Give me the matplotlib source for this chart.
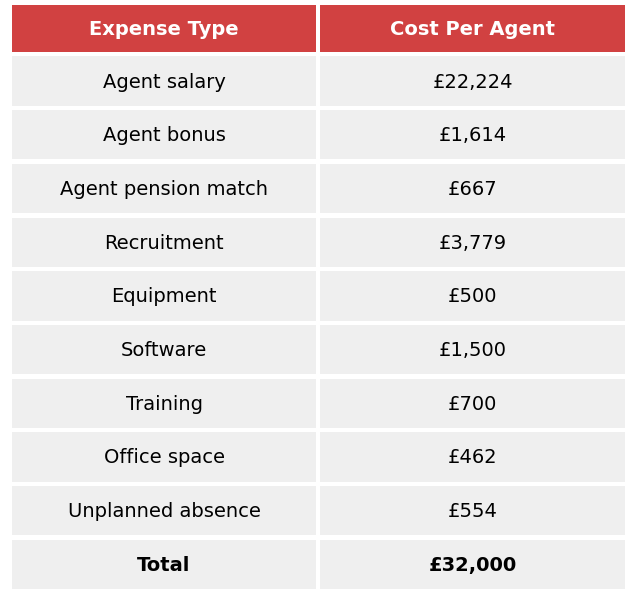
import matplotlib
matplotlib.use("Agg")
import matplotlib.pyplot as plt
from matplotlib.patches import Rectangle

headers = ["Expense Type", "Cost Per Agent"]
expense_types = ["Agent salary", "Agent bonus", "Agent pension match", "Recruitment",
                 "Equipment", "Software", "Training", "Office space", "Unplanned absence", "Total"]
costs = [22224, 1614, 667, 3779, 500, 1500, 700, 462, 554, 32000]

W, H = 634, 598
fig = plt.figure(figsize=(W/100, H/100), dpi=100)
ax = fig.add_axes([0, 0, 1, 1])
ax.set_xlim(0, W); ax.set_ylim(H, 0); ax.axis("off")

cols = [(12, 316), (320, 625)]
top, hh, rh, gap = 5, 47, 49.3, 4.4
red, grey = "#D14141", "#EFEFEF"
font = "DejaVu Sans"

for (x0, x1), h in zip(cols, headers):
    ax.add_patch(Rectangle((x0, top), x1 - x0, hh, color=red, lw=0))
    ax.text((x0+x1)/2, top+hh/2+1, h, color="white", ha="center", va="center",
            fontsize=14, fontweight="bold", family=font)

y = top + hh + gap
for i, (name, c) in enumerate(zip(expense_types, costs)):
    bold = "bold" if name == "Total" else "normal"
    vals = [name, f"£{c:,}"]
    for (x0, x1), v in zip(cols, vals):
        ax.add_patch(Rectangle((x0, y), x1 - x0, rh, color=grey, lw=0))
        ax.text((x0+x1)/2, y+rh/2+1, v, color="black", ha="center", va="center",
                fontsize=14, fontweight=bold, family=font)
    y += rh + gap

fig.savefig("out.png", dpi=100, facecolor="white")
